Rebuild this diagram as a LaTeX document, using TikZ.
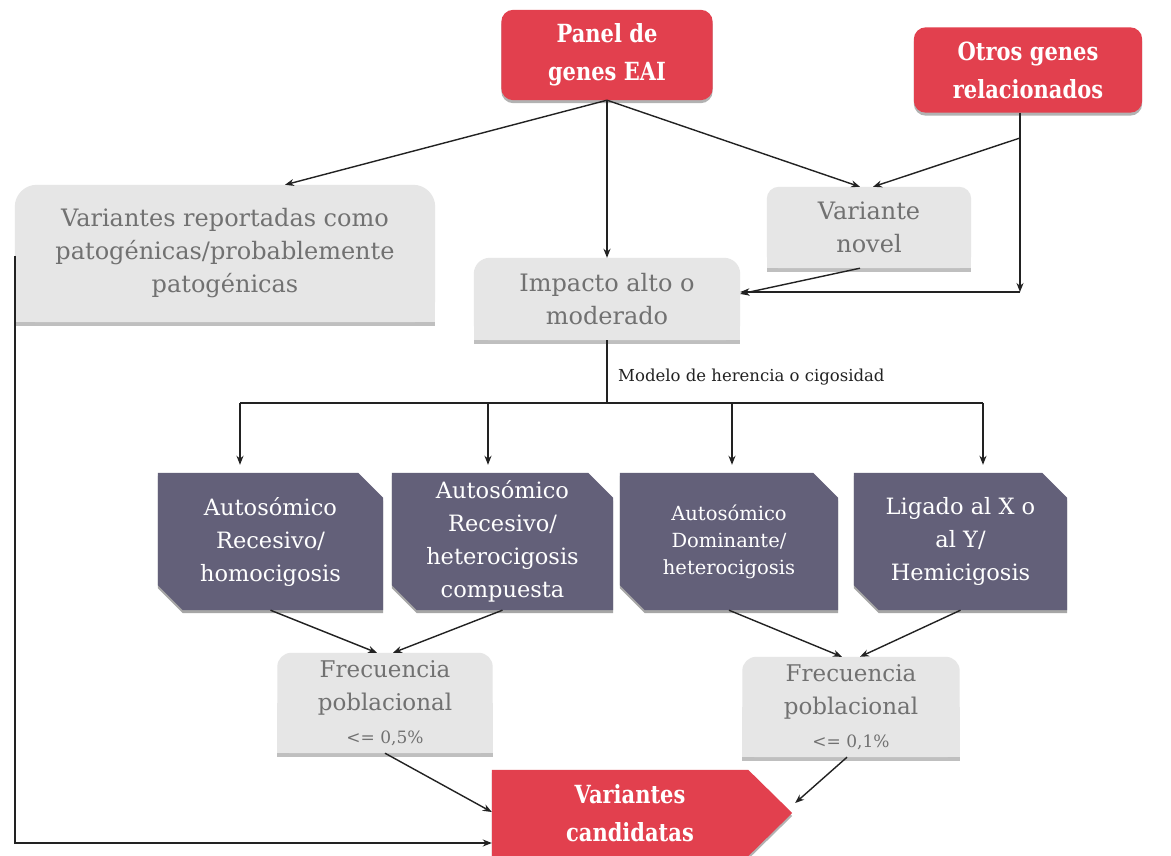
\documentclass[tikz,border=0pt]{standalone}
\usepackage{fontspec}
\setmainfont{DejaVu Serif}
\newfontfamily\condf[FakeStretch=0.84]{DejaVu Serif}
\usetikzlibrary{arrows.meta,calc,backgrounds}
\definecolor{redc}{HTML}{E2404E}
\definecolor{purc}{HTML}{636079}
\definecolor{grayc}{HTML}{E6E6E6}
\definecolor{graytxt}{HTML}{717171}
\definecolor{linec}{HTML}{222222}
\tikzset{
  arr/.style={draw=linec, line width=1.4pt, -{Stealth[length=9pt,width=7pt]}},
  ln/.style={draw=linec, line width=1.4pt},
  gtext/.style={text=graytxt, font=\fontsize{24}{33}\selectfont, align=center, inner sep=0pt},
  ftext/.style={text=graytxt, font=\fontsize{23}{33}\selectfont, align=center, inner sep=0pt},
  ptext/.style={text=white, font=\fontsize{22.5}{33}\selectfont, align=center, inner sep=0pt},
  rtext/.style={text=white, font=\condf\bfseries\fontsize{25}{38}\selectfont, align=center, inner sep=0pt},
  lbl/.style={text=linec, font=\fontsize{16.5}{20}\selectfont, inner sep=0pt},
  sz/.style 2 args={minimum width=#1pt, minimum height=#2pt},
}
\newcommand\grayshape[2]{%
  \fill[black!25] ([yshift=-3.5pt]#1.south west) rectangle ([yshift=-3.5pt]#1.east);
  \fill[grayc, rounded corners=#2] (#1.south west) rectangle (#1.north east);
  \fill[grayc] (#1.south west) rectangle (#1.east);
}
\newcommand\purshape[1]{%
  \fill[black!35, transform canvas={yshift=-3pt}] (#1.north west) -- ([xshift=-25pt]#1.north east) -- ([yshift=-25pt]#1.north east) -- (#1.south east) -- ([xshift=25pt]#1.south west) -- ([yshift=25pt]#1.south west) -- cycle;
  \fill[purc] (#1.north west) -- ([xshift=-25pt]#1.north east) -- ([yshift=-25pt]#1.north east) -- (#1.south east) -- ([xshift=25pt]#1.south west) -- ([yshift=25pt]#1.south west) -- cycle;
}
\newcommand\redshape[1]{%
  \fill[black!30, rounded corners=12pt, transform canvas={yshift=-3pt}] (#1.south west) rectangle (#1.north east);
  \fill[redc, rounded corners=12pt] (#1.south west) rectangle (#1.north east);
}
\begin{document}
\begin{tikzpicture}[x=1pt,y=-1pt]
\useasboundingbox (0,0) rectangle (1171,856);

% nodes
\node[rtext, sz={211}{90}] (panel) at (607,55) {Panel de\\genes EAI};
\node[rtext, sz={228}{85}] (otros) at (1028,70) {Otros genes\\relacionados};
\node[gtext, sz={420}{137}] (rep) at (225,253.5) {Variantes reportadas como\\patogénicas/probablemente\\patogénicas};
\node[gtext, sz={204}{81}] (novel) at (869,227.5) {Variante\\novel};
\node[gtext, sz={266}{82}] (imp) at (607,299) {Impacto alto o\\moderado};
\node[lbl, anchor=west] (mlab) at (618,377) {Modelo de herencia o cigosidad};

\node[ptext, sz={225}{137}] (p1) at (270.5,541.5) {Autosómico\\Recesivo/\\homocigosis};
\node[ptext, sz={221}{137}] (p2) at (502.5,541.5) {Autosómico\\Recesivo/\\heterocigosis\\compuesta};
\node[ptext, sz={218}{137}, font=\fontsize{19.5}{27}\selectfont] (p3) at (729,541.5) {Autosómico\\Dominante/\\heterocigosis};
\node[ptext, sz={213}{137}] (p4) at (960.5,541.5) {Ligado al X o\\al Y/\\Hemicigosis};

\node[ftext, sz={215}{100}] (f1) at (385,703) {Frecuencia\\poblacional\\{\fontsize{17}{20}\selectfont <= 0,5\%}};
\node[ftext, sz={217}{100}] (f2) at (851,707) {Frecuencia\\poblacional\\{\fontsize{17}{20}\selectfont <= 0,1\%}};

\node[rtext, sz={276}{86}] (cand) at (630,813) {Variantes\\candidatas};

% backgrounds
\begin{pgfonlayer}{background}
  \fill[white] (0,0) rectangle (1171,856);
  \redshape{panel}
  \redshape{otros}
  \grayshape{rep}{22pt}
  \grayshape{novel}{12pt}
  \grayshape{imp}{16pt}
  \purshape{p1}
  \purshape{p2}
  \purshape{p3}
  \purshape{p4}
  \grayshape{f1}{14pt}
  \grayshape{f2}{14pt}
  \fill[black!30, transform canvas={yshift=-3pt}] (cand.north west) -- ([xshift=-20pt]cand.north east) -- ([xshift=24pt]cand.east) -- ([xshift=-20pt]cand.south east) -- (cand.south west) -- cycle;
  \fill[redc] (cand.north west) -- ([xshift=-20pt]cand.north east) -- ([xshift=24pt]cand.east) -- ([xshift=-20pt]cand.south east) -- (cand.south west) -- cycle;
\end{pgfonlayer}

% coordinates
\coordinate (oj) at (1020,138);
\coordinate (ok) at (1020,292);
\coordinate (hb) at (607,403);
\coordinate (h1) at (240,403);
\coordinate (h2) at (488,403);
\coordinate (h3) at (732,403);
\coordinate (h4) at (983,403);
\coordinate (lp) at (0,843);

% connectors
\draw[arr] (panel.south) -- ([xshift=60pt]rep.north);
\draw[arr] (panel.south) -- (panel.south |- imp.north);
\draw[arr] (panel.south) -- ([xshift=-9pt]novel.north);
\draw[ln] ([xshift=-8pt]otros.south) -- (oj);
\draw[arr] (oj) -- (ok);
\draw[arr] (oj) -- ([xshift=4pt]novel.north);
\draw[arr] (ok) -- (imp.east |- ok);
\draw[arr] ([xshift=-9pt]novel.south) -- ([yshift=5pt]imp.east);
\draw[ln] (imp.south) -- (hb);
\draw[ln] (h1) -- (h4);
\draw[arr] (h1) -- ([yshift=8pt]h1 |- p1.north);
\draw[arr] (h2) -- ([yshift=8pt]h2 |- p2.north);
\draw[arr] (h3) -- ([yshift=8pt]h3 |- p3.north);
\draw[arr] (h4) -- ([yshift=8pt]h4 |- p4.north);
\draw[arr] (p1.south) -- ([xshift=-8pt]f1.north);
\draw[arr] (p2.south) -- ([xshift=8pt]f1.north);
\draw[arr] (p3.south) -- ([xshift=-9pt]f2.north);
\draw[arr] (p4.south) -- ([xshift=9pt]f2.north);
\draw[arr] (f1.south) -- ([yshift=1pt]cand.west);
\draw[arr] ([xshift=-4pt]f2.south) -- ([xshift=27pt,yshift=10pt]cand.east);
\draw[arr] ([yshift=-2pt]rep.west) -- (rep.west |- lp) -- (cand.west |- lp);
\end{tikzpicture}
\end{document}
